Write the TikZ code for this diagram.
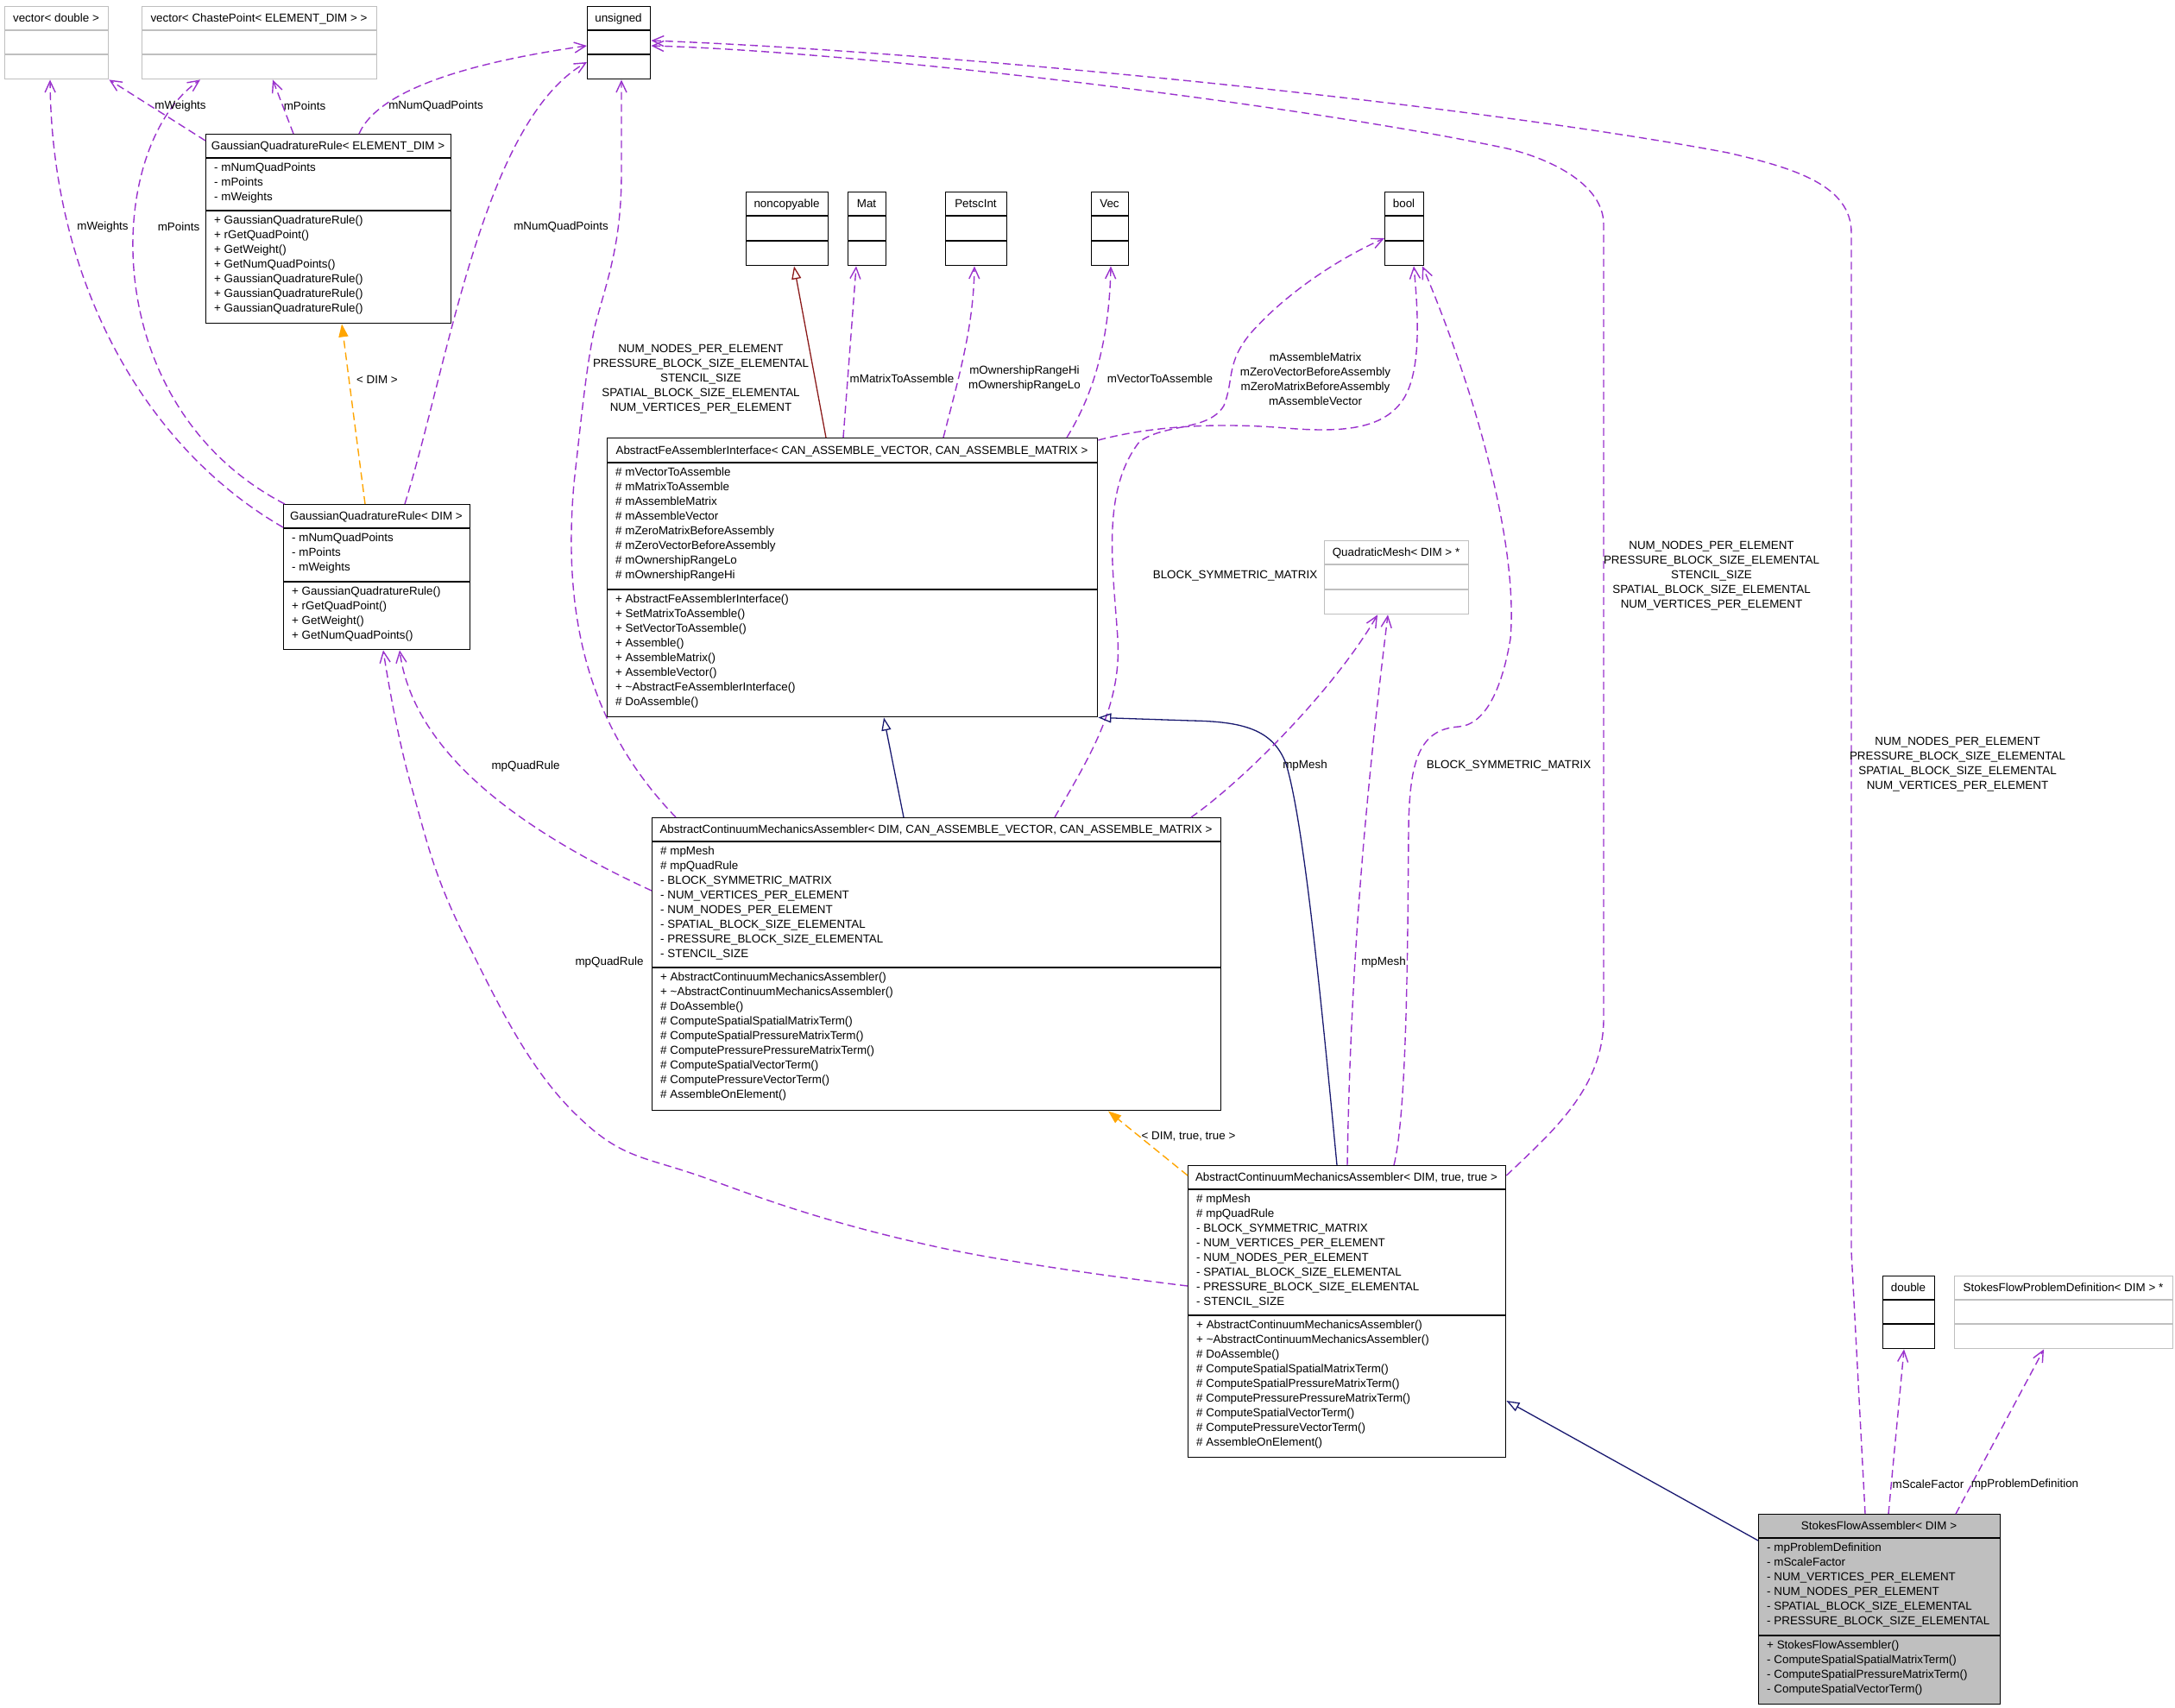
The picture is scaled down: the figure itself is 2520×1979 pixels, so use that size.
\documentclass[tikz,border=0pt]{standalone}
\usepackage{fontspec}
\setmainfont{Liberation Sans}
\usetikzlibrary{arrows.meta}
\definecolor{dpurple}{HTML}{9A32CD}
\definecolor{dnavy}{HTML}{191970}
\definecolor{dorange}{HTML}{FFA500}
\definecolor{dred}{HTML}{8B1A1A}
\definecolor{grey75}{HTML}{BFBFBF}
\newcommand\umlbox[9]{%
  \pgfmathsetmacro\bw{#5-#3}%
  \pgfmathsetmacro\bh{#8-#4}%
  \node[#2, minimum width=\bw pt, minimum height=\bh pt, anchor=north west] (#1) at (#3,#4) {};
  \draw[#2, fill=none] (#3,#6) -- (#5,#6) (#3,#7) -- (#5,#7);
  \node[ttl] (#1-t) at ({(#3+#5)/2},{(#4+#6)/2+4.6}) {#9};
  \coordinate (#1-a) at (#3,#6);
  \coordinate (#1-m) at (#3,#7);
}
\tikzset{
  every node/.style={font=\fontsize{13.4}{17}\selectfont},
  cls/.style={draw=black, line width=1.4pt, inner sep=0pt, rectangle},
  gcls/.style={draw=grey75, line width=1.4pt, inner sep=0pt, rectangle},
  ttl/.style={anchor=base, inner sep=0pt},
  memb/.style={anchor=north west, align=left, inner sep=0pt, execute at begin node=\strut},
  lbl/.style={align=center, inner sep=0pt},
  use/.style={draw=dpurple, line width=1.4pt, dash pattern=on 9pt off 5pt, -{Straight Barb[length=13pt,width=12pt]}},
  inh/.style={draw=dnavy, line width=1.3pt, -{Triangle[open,length=15pt,width=11pt]}},
  inhr/.style={draw=dred, line width=1.3pt, -{Triangle[open,length=15pt,width=11pt]}},
  tmpl/.style={draw=dorange, line width=1.4pt, dash pattern=on 9pt off 5pt, -{Triangle[length=15pt,width=11pt,fill=dorange]}},
}
\begin{document}
\begin{tikzpicture}[x=1pt,y=-1pt]
\useasboundingbox (0,0) rectangle (2520,1979);
% ---------- boxes ----------
\umlbox{vd}{gcls}{5}{7}{125}{35}{63}{91}{vector< double >}
\umlbox{vcp}{gcls}{164}{7}{436}{35}{63}{91}{vector< ChastePoint< ELEMENT\_DIM > >}
\umlbox{uns}{cls}{680}{7}{753}{35}{63}{91}{unsigned}
\umlbox{gqred}{cls}{238}{155}{522}{183}{244}{374}{GaussianQuadratureRule< ELEMENT\_DIM >}
\umlbox{gqr}{cls}{328}{584}{544}{612}{674}{752}{GaussianQuadratureRule< DIM >}
\umlbox{nc}{cls}{864}{222}{959}{250}{279}{307}{noncopyable}
\umlbox{mat}{cls}{982}{222}{1026}{250}{279}{307}{Mat}
\umlbox{pint}{cls}{1095}{222}{1166}{250}{279}{307}{PetscInt}
\umlbox{vec}{cls}{1264}{222}{1307}{250}{279}{307}{Vec}
\umlbox{bool}{cls}{1604}{222}{1649}{250}{279}{307}{bool}
\umlbox{afai}{cls}{703}{507}{1271}{536}{683}{830}{AbstractFeAssemblerInterface< CAN\_ASSEMBLE\_VECTOR, CAN\_ASSEMBLE\_MATRIX >}
\umlbox{qm}{gcls}{1534}{626}{1701}{654}{683}{711}{QuadraticMesh< DIM > *}
\umlbox{acma}{cls}{755}{947}{1414}{975}{1121}{1286}{AbstractContinuumMechanicsAssembler< DIM, CAN\_ASSEMBLE\_VECTOR, CAN\_ASSEMBLE\_MATRIX >}
\umlbox{acmat}{cls}{1376}{1350}{1744}{1378}{1524}{1688}{AbstractContinuumMechanicsAssembler< DIM, true, true >}
\umlbox{dbl}{cls}{2181}{1478}{2241}{1506}{1534}{1562}{double}
\umlbox{sfpd}{gcls}{2264}{1478}{2517}{1506}{1534}{1562}{StokesFlowProblemDefinition< DIM > *}
\umlbox{sfa}{cls,fill=grey75}{2037}{1754}{2317}{1782}{1895}{1974}{StokesFlowAssembler< DIM >}
% ---------- members ----------
\node[memb] (gqred-at) at ([xshift=10pt,yshift=-6pt]gqred-a) {- mNumQuadPoints\\- mPoints\\- mWeights};
\node[memb] (gqred-me) at ([xshift=10pt,yshift=-6pt]gqred-m) {+ GaussianQuadratureRule()\\+ rGetQuadPoint()\\+ GetWeight()\\+ GetNumQuadPoints()\\+ GaussianQuadratureRule()\\+ GaussianQuadratureRule()\\+ GaussianQuadratureRule()};
\node[memb] (gqr-at) at ([xshift=10pt,yshift=-6pt]gqr-a) {- mNumQuadPoints\\- mPoints\\- mWeights};
\node[memb] (gqr-me) at ([xshift=10pt,yshift=-6pt]gqr-m) {+ GaussianQuadratureRule()\\+ rGetQuadPoint()\\+ GetWeight()\\+ GetNumQuadPoints()};
\node[memb] (afai-at) at ([xshift=10pt,yshift=-6pt]afai-a) {\# mVectorToAssemble\\\# mMatrixToAssemble\\\# mAssembleMatrix\\\# mAssembleVector\\\# mZeroMatrixBeforeAssembly\\\# mZeroVectorBeforeAssembly\\\# mOwnershipRangeLo\\\# mOwnershipRangeHi};
\node[memb] (afai-me) at ([xshift=10pt,yshift=-6pt]afai-m) {+ AbstractFeAssemblerInterface()\\+ SetMatrixToAssemble()\\+ SetVectorToAssemble()\\+ Assemble()\\+ AssembleMatrix()\\+ AssembleVector()\\+ \textasciitilde AbstractFeAssemblerInterface()\\\# DoAssemble()};
\node[memb] (acma-at) at ([xshift=10pt,yshift=-6pt]acma-a) {\# mpMesh\\\# mpQuadRule\\- BLOCK\_SYMMETRIC\_MATRIX\\- NUM\_VERTICES\_PER\_ELEMENT\\- NUM\_NODES\_PER\_ELEMENT\\- SPATIAL\_BLOCK\_SIZE\_ELEMENTAL\\- PRESSURE\_BLOCK\_SIZE\_ELEMENTAL\\- STENCIL\_SIZE};
\node[memb] (acma-me) at ([xshift=10pt,yshift=-6pt]acma-m) {+ AbstractContinuumMechanicsAssembler()\\+ \textasciitilde AbstractContinuumMechanicsAssembler()\\\# DoAssemble()\\\# ComputeSpatialSpatialMatrixTerm()\\\# ComputeSpatialPressureMatrixTerm()\\\# ComputePressurePressureMatrixTerm()\\\# ComputeSpatialVectorTerm()\\\# ComputePressureVectorTerm()\\\# AssembleOnElement()};
\node[memb] (acmat-at) at ([xshift=10pt,yshift=-6pt]acmat-a) {\# mpMesh\\\# mpQuadRule\\- BLOCK\_SYMMETRIC\_MATRIX\\- NUM\_VERTICES\_PER\_ELEMENT\\- NUM\_NODES\_PER\_ELEMENT\\- SPATIAL\_BLOCK\_SIZE\_ELEMENTAL\\- PRESSURE\_BLOCK\_SIZE\_ELEMENTAL\\- STENCIL\_SIZE};
\node[memb] (acmat-me) at ([xshift=10pt,yshift=-6pt]acmat-m) {+ AbstractContinuumMechanicsAssembler()\\+ \textasciitilde AbstractContinuumMechanicsAssembler()\\\# DoAssemble()\\\# ComputeSpatialSpatialMatrixTerm()\\\# ComputeSpatialPressureMatrixTerm()\\\# ComputePressurePressureMatrixTerm()\\\# ComputeSpatialVectorTerm()\\\# ComputePressureVectorTerm()\\\# AssembleOnElement()};
\node[memb] (sfa-at) at ([xshift=10pt,yshift=-6pt]sfa-a) {- mpProblemDefinition\\- mScaleFactor\\- NUM\_VERTICES\_PER\_ELEMENT\\- NUM\_NODES\_PER\_ELEMENT\\- SPATIAL\_BLOCK\_SIZE\_ELEMENTAL\\- PRESSURE\_BLOCK\_SIZE\_ELEMENTAL};
\node[memb] (sfa-me) at ([xshift=10pt,yshift=-6pt]sfa-m) {+ StokesFlowAssembler()\\- ComputeSpatialSpatialMatrixTerm()\\- ComputeSpatialPressureMatrixTerm()\\- ComputeSpatialVectorTerm()};
% ---------- connectors ----------
\draw[use] ([yshift=-8pt]gqred.north west) -- (vd.south east);
\draw[use] ([xshift=102pt]gqred.north west) -- ([xshift=152pt]vcp.south west);
\draw[use] ([xshift=178pt]gqred.north west) .. controls (440,100) and (560,70) .. ([yshift=-46pt]uns.north west);
\draw[use] ([yshift=-27pt]gqr.north west) .. controls (170,520) and (60,330) .. ([xshift=53pt]vd.south west);
\draw[use] ([xshift=2pt]gqr.north west) .. controls (110,470) and (120,170) .. ([xshift=68pt]vcp.south west);
\draw[use] ([xshift=141pt]gqr.north west) .. controls (520,420) and (560,140) .. ([yshift=-65pt]uns.north west);
\draw[tmpl] ([xshift=95pt]gqr.north west) -- ([xshift=158pt]gqred.south west);
\draw[inhr] ([xshift=254pt]afai.north west) -- ([xshift=56pt]nc.south west);
\draw[use] ([xshift=274pt]afai.north west) -- ([xshift=10pt]mat.south west);
\draw[use] ([xshift=390pt]afai.north west) .. controls (1110,440) and (1128,380) .. ([xshift=34pt]pint.south west);
\draw[use] ([xshift=533pt]afai.north west) .. controls (1265,460) and (1285,400) .. ([xshift=23pt]vec.south west);
\draw[use] ([yshift=-3pt]afai.north east) .. controls (1340,492) and (1420,490) .. (1490,496) .. controls (1560,502) and (1600,495) .. (1622,468) .. controls (1645,440) and (1645,380) .. ([xshift=34pt]bool.south west);
\draw[use] ([xshift=467pt]acma.north west) .. controls (1260,880) and (1300,820) .. (1295,740) .. controls (1290,660) and (1275,570) .. (1320,512) .. controls (1350,490) and (1400,500) .. (1418,470) .. controls (1430,440) and (1420,420) .. (1450,385) .. controls (1490,340) and (1550,300) .. ([yshift=-54pt]bool.north west);
\draw[inh] ([xshift=292pt]acma.north west) -- ([xshift=321pt]afai.south west);
\draw[inh] ([xshift=173pt]acmat.north west) .. controls (1530,1150) and (1510,950) .. (1490,885) .. controls (1475,845) and (1440,836) .. (1380,835) -- (afai.south east);
\draw[use] ([xshift=625pt]acma.north west) .. controls (1440,905) and (1545,800) .. ([xshift=62pt]qm.south west);
\draw[use] ([xshift=185pt]acmat.north west) .. controls (1565,1100) and (1585,900) .. ([xshift=74pt]qm.south west);
\draw[use] ([xshift=239pt]acmat.north west) .. controls (1630,1290) and (1631,1100) .. (1632,960) .. controls (1633,880) and (1645,845) .. (1690,842) .. controls (1720,840) and (1740,800) .. (1750,740) .. controls (1760,620) and (1700,430) .. ([xshift=44pt]bool.south west);
\draw[tmpl] ([yshift=-12pt]acmat.north west) -- ([xshift=529pt]acma.south west);
\draw[use] ([yshift=-85pt]acma.north west) .. controls (620,970) and (480,880) .. ([xshift=135pt]gqr.south west);
\draw[use] plot[smooth, tension=0.7] coordinates {([yshift=-140pt]acmat.north west) (1082,1444) (826,1368) (667,1291) (539,1087) (476,909) ([xshift=116pt]gqr.south west)};
\draw[use] ([xshift=28pt]acma.north west) .. controls (690,850) and (650,730) .. (665,560) .. controls (675,470) and (680,420) .. (690,375) .. controls (705,320) and (720,280) .. (720,200) -- ([xshift=40pt]uns.south west);
\draw[use] ([yshift=-12pt]acmat.north east) .. controls (1800,1310) and (1858,1260) .. (1858,1180) -- (1858,260) .. controls (1858,215) and (1800,185) .. (1746,172) .. controls (1500,120) and (1000,60) .. ([yshift=-46pt]uns.north east);
\draw[use] ([xshift=124pt]sfa.north west) -- (2145,1450) -- (2145,270) .. controls (2145,215) and (2080,195) .. (2002,177) .. controls (1700,120) and (1100,60) .. ([yshift=-40pt]uns.north east);
\draw[use] ([xshift=151pt]sfa.north west) -- ([xshift=25pt]dbl.south west);
\draw[use] ([xshift=229pt]sfa.north west) -- ([xshift=104pt]sfpd.south west);
\draw[inh] ([yshift=-31pt]sfa.north west) -- ([yshift=-273pt]acmat.north east);
% ---------- labels ----------
\node[lbl] (l1) at (209,123) {mWeights};
\node[lbl] (l2) at (353,123) {mPoints};
\node[lbl] (l3) at (505,123) {mNumQuadPoints};
\node[lbl] (l4) at (119,263) {mWeights};
\node[lbl] (l5) at (207,263) {mPoints};
\node[lbl] (l6) at (650,263) {mNumQuadPoints};
\node[lbl] (l7) at (437,440) {< DIM >};
\node[lbl] (l9) at (1045,439) {mMatrixToAssemble};
\node[lbl] (l10) at (1187,439) {mOwnershipRangeHi\\mOwnershipRangeLo};
\node[lbl] (l11) at (1344,439) {mVectorToAssemble};
\node[lbl] (l12) at (1524,439) {mAssembleMatrix\\mZeroVectorBeforeAssembly\\mZeroMatrixBeforeAssembly\\mAssembleVector};
\node[lbl] (l13) at (1431,667) {BLOCK\_SYMMETRIC\_MATRIX};
\node[lbl] (l16) at (1512,887) {mpMesh};
\node[lbl] (l17) at (1603,1115) {mpMesh};
\node[lbl] (l18) at (1748,887) {BLOCK\_SYMMETRIC\_MATRIX};
\node[lbl] (l19) at (1377,1317) {< DIM, true, true >};
\node[lbl] (l20) at (609,888) {mpQuadRule};
\node[lbl] (l21) at (706,1115) {mpQuadRule};
\node[lbl] (l22) at (812,439) {NUM\_NODES\_PER\_ELEMENT\\PRESSURE\_BLOCK\_SIZE\_ELEMENTAL\\STENCIL\_SIZE\\SPATIAL\_BLOCK\_SIZE\_ELEMENTAL\\NUM\_VERTICES\_PER\_ELEMENT};
\node[lbl] (l23) at (1983,667) {NUM\_NODES\_PER\_ELEMENT\\PRESSURE\_BLOCK\_SIZE\_ELEMENTAL\\STENCIL\_SIZE\\SPATIAL\_BLOCK\_SIZE\_ELEMENTAL\\NUM\_VERTICES\_PER\_ELEMENT};
\node[lbl] (l24) at (2268,886) {NUM\_NODES\_PER\_ELEMENT\\PRESSURE\_BLOCK\_SIZE\_ELEMENTAL\\SPATIAL\_BLOCK\_SIZE\_ELEMENTAL\\NUM\_VERTICES\_PER\_ELEMENT};
\node[lbl] (l25) at (2234,1720) {mScaleFactor};
\node[lbl] (l26) at (2346,1720) {mpProblemDefinition};
\end{tikzpicture}
\end{document}
